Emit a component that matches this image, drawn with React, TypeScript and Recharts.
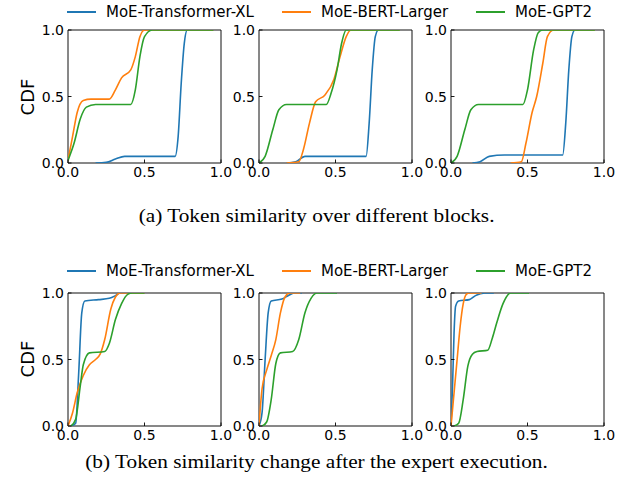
import { LineChart, Line, XAxis, YAxis, ReferenceArea } from 'recharts'

type Pt = { x: number; y: number }
const pts = (a: number[][]): Pt[] => a.map(([x, y]) => ({ x, y }))

const seriesNames = ['MoE-Transformer-XL', 'MoE-BERT-Larger', 'MoE-GPT2']
const seriesColors = ['#1f77b4', '#ff7f0e', '#2ca02c']
const axisTicks = [0, 0.5, 1]

// (a) token similarity over different blocks
const a1Blue = pts([[0.18, 0], [0.25, 0.005], [0.31, 0.03], [0.37, 0.05], [0.5, 0.05], [0.7, 0.05], [0.72, 0.2], [0.74, 0.6], [0.76, 0.9], [0.78, 1], [0.95, 1]])
const a1Orange = pts([[0, 0.02], [0.03, 0.2], [0.06, 0.38], [0.1, 0.47], [0.15, 0.48], [0.27, 0.48], [0.31, 0.55], [0.35, 0.64], [0.41, 0.7], [0.44, 0.8], [0.47, 0.95], [0.5, 1], [0.95, 1]])
const a1Green = pts([[0, 0.02], [0.04, 0.15], [0.08, 0.33], [0.12, 0.42], [0.18, 0.44], [0.41, 0.44], [0.44, 0.55], [0.47, 0.8], [0.5, 0.95], [0.55, 1], [0.95, 1]])

const a2Blue = pts([[0.18, 0], [0.24, 0.01], [0.3, 0.05], [0.45, 0.05], [0.7, 0.05], [0.72, 0.3], [0.74, 0.7], [0.76, 0.95], [0.78, 1], [0.92, 1]])
const a2Orange = pts([[0.18, 0], [0.26, 0.01], [0.29, 0.1], [0.33, 0.3], [0.37, 0.46], [0.43, 0.51], [0.49, 0.63], [0.53, 0.8], [0.57, 0.95], [0.6, 1], [0.92, 1]])
const a2Green = pts([[0, 0], [0.04, 0.05], [0.09, 0.25], [0.13, 0.4], [0.18, 0.44], [0.44, 0.44], [0.47, 0.52], [0.51, 0.7], [0.54, 0.9], [0.57, 1], [0.92, 1]])

const a3Blue = pts([[0.14, 0], [0.19, 0.01], [0.25, 0.05], [0.35, 0.06], [0.73, 0.06], [0.75, 0.3], [0.77, 0.7], [0.79, 0.95], [0.81, 1], [0.94, 1]])
const a3Orange = pts([[0.39, 0], [0.46, 0.01], [0.49, 0.15], [0.53, 0.38], [0.56, 0.5], [0.6, 0.75], [0.63, 0.95], [0.67, 1], [0.94, 1]])
const a3Green = pts([[0, 0], [0.04, 0.05], [0.09, 0.25], [0.13, 0.4], [0.18, 0.44], [0.47, 0.44], [0.5, 0.55], [0.54, 0.85], [0.57, 0.98], [0.6, 1], [0.94, 1]])

// (b) token similarity change after expert execution
const b1Blue = pts([[0.02, 0], [0.05, 0.02], [0.07, 0.4], [0.09, 0.85], [0.11, 0.94], [0.2, 0.95], [0.27, 0.96], [0.31, 0.98], [0.34, 1], [0.5, 1]])
const b1Orange = pts([[0, 0], [0.03, 0.1], [0.06, 0.25], [0.1, 0.38], [0.14, 0.46], [0.18, 0.5], [0.21, 0.54], [0.24, 0.65], [0.28, 0.88], [0.31, 0.97], [0.34, 1], [0.5, 1]])
const b1Green = pts([[0.02, 0], [0.05, 0.05], [0.08, 0.3], [0.1, 0.46], [0.14, 0.55], [0.24, 0.56], [0.27, 0.62], [0.31, 0.8], [0.35, 0.92], [0.39, 0.99], [0.42, 1], [0.5, 1]])

const b2Blue = pts([[0, 0], [0.02, 0.1], [0.04, 0.5], [0.06, 0.85], [0.08, 0.94], [0.15, 0.955], [0.19, 0.98], [0.23, 1], [0.28, 1]])
const b2Orange = pts([[0, 0], [0.02, 0.28], [0.05, 0.42], [0.08, 0.53], [0.11, 0.65], [0.14, 0.85], [0.17, 0.97], [0.2, 1], [0.27, 1]])
const b2Green = pts([[0.02, 0], [0.05, 0.03], [0.08, 0.2], [0.11, 0.47], [0.14, 0.55], [0.22, 0.56], [0.26, 0.65], [0.3, 0.85], [0.34, 0.96], [0.38, 1], [0.51, 1]])

const b3Blue = pts([[0, 0], [0.01, 0.3], [0.02, 0.7], [0.03, 0.9], [0.05, 0.94], [0.12, 0.95], [0.16, 0.98], [0.22, 1], [0.28, 1]])
const b3Orange = pts([[0, 0], [0.02, 0.25], [0.04, 0.5], [0.06, 0.75], [0.08, 0.92], [0.1, 0.99], [0.12, 1], [0.2, 1]])
const b3Green = pts([[0.02, 0], [0.05, 0.02], [0.08, 0.2], [0.11, 0.45], [0.14, 0.54], [0.17, 0.56], [0.24, 0.57], [0.27, 0.66], [0.3, 0.78], [0.34, 0.92], [0.39, 1], [0.51, 1]])

const rowA = [[a1Blue, a1Orange, a1Green], [a2Blue, a2Orange, a2Green], [a3Blue, a3Orange, a3Green]]
const rowB = [[b1Blue, b1Orange, b1Green], [b2Blue, b2Orange, b2Green], [b3Blue, b3Orange, b3Green]]

const captions = ['(a) Token similarity over different blocks.', '(b) Token similarity change after the expert execution.']

const font = '"DejaVu Sans", sans-serif'
const plotW = 153
const plotH = 133
const yAxisW = 40
const mTop = 10
const mRight = 14
const xAxisH = 28
const plotLefts = [67.5, 259, 451]

function XTick({ x, y, payload }: any) {
  return (
    <g>
      <line x1={x} x2={x} y1={y} y2={y - 3.5} stroke="#000" strokeWidth={0.9} />
      <text x={x} y={y + 4.5} dy="0.71em" textAnchor="middle" fontSize={14} fill="#000" fontFamily={font}>
        {Number(payload.value).toFixed(1)}
      </text>
    </g>
  )
}

function YTick({ x, y, payload }: any) {
  return (
    <g>
      <line x1={x} x2={x + 3.5} y1={y} y2={y} stroke="#000" strokeWidth={0.9} />
      <text x={x - 4} y={y} dy="0.36em" textAnchor="end" fontSize={14} fill="#000" fontFamily={font}>
        {Number(payload.value).toFixed(1)}
      </text>
    </g>
  )
}

function Panel({ series, left, top }: { series: Pt[][]; left: number; top: number }) {
  return (
    <div style={{ position: 'absolute', left: left - yAxisW, top: top - mTop }}>
      <LineChart width={yAxisW + plotW + mRight} height={mTop + plotH + xAxisH} margin={{ top: mTop, right: mRight, bottom: 0, left: 0 }}>
        <XAxis type="number" dataKey="x" domain={[0, 1]} ticks={axisTicks} height={xAxisH} axisLine={false} tickLine={false} tickSize={0} tickMargin={0} tick={<XTick />} interval={0} allowDataOverflow />
        <YAxis type="number" dataKey="y" domain={[0, 1]} ticks={axisTicks} width={yAxisW} axisLine={false} tickLine={false} tickSize={0} tickMargin={0} tick={<YTick />} interval={0} allowDataOverflow />
        {series.map((d, i) => (
          <Line key={seriesNames[i]} data={d} dataKey="y" type="monotone" stroke={seriesColors[i]} strokeWidth={1.6} dot={false} activeDot={false} isAnimationActive={false} />
        ))}
        <ReferenceArea x1={0} x2={1} y1={0} y2={1} fill="none" stroke="#111" strokeWidth={1} ifOverflow="visible" />
      </LineChart>
    </div>
  )
}

function LegendRow({ top }: { top: number }) {
  const lineLefts = [67, 282, 476]
  return (
    <>
      {seriesNames.map((n, i) => (
        <div key={n} style={{ position: 'absolute', left: lineLefts[i], top, display: 'flex', alignItems: 'center', height: 18 }}>
          <div style={{ width: 29, height: 2, background: seriesColors[i] }} />
          <span style={{ marginLeft: 10, fontFamily: font, fontSize: 15, color: '#000', whiteSpace: 'nowrap' }}>{n}</span>
        </div>
      ))}
    </>
  )
}

function CdfLabel({ centerY }: { centerY: number }) {
  return (
    <div style={{ position: 'absolute', left: 27, top: centerY, transform: 'translate(-50%, -50%) rotate(-90deg)', fontFamily: font, fontSize: 18, whiteSpace: 'nowrap' }}>
      CDF
    </div>
  )
}

function Caption({ text, centerY }: { text: string; centerY: number }) {
  return (
    <div style={{ position: 'absolute', left: 0, width: 633, top: centerY - 11, height: 22, lineHeight: '22px', textAlign: 'center', fontFamily: '"Liberation Serif", "Times New Roman", serif', fontSize: 19, color: '#000', transform: 'scaleX(1.12)', transformOrigin: '316px 50%' }}>
      {text}
    </div>
  )
}

export default function App() {
  return (
    <div style={{ position: 'absolute', left: 0, top: 0, width: 633, height: 496, background: '#fff', overflow: 'hidden' }}>
      <LegendRow top={3} />
      <CdfLabel centerY={97} />
      {rowA.map((s, i) => (
        <Panel key={'a' + i} series={s} left={plotLefts[i]} top={30} />
      ))}
      <Caption text={captions[0]} centerY={216} />

      <LegendRow top={262} />
      <CdfLabel centerY={359} />
      {rowB.map((s, i) => (
        <Panel key={'b' + i} series={s} left={plotLefts[i]} top={293} />
      ))}
      <Caption text={captions[1]} centerY={462} />
    </div>
  )
}
